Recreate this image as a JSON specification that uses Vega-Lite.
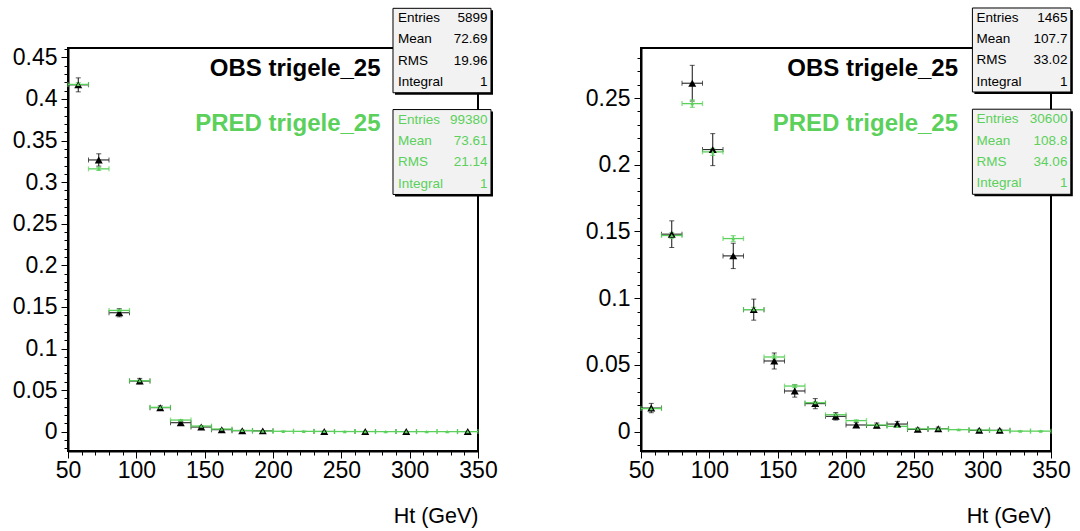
{
  "$schema": "https://vega.github.io/schema/vega-lite/v6.json",
  "background": "white",
  "padding": {"left": 11, "top": 6, "right": 0, "bottom": 0},
  "spacing": 85,
  "config": {
    "font": "Liberation Sans",
    "view": {"stroke": "black", "strokeWidth": 2},
    "axis": {
      "grid": false,
      "domainColor": "black",
      "domainWidth": 2,
      "tickColor": "black",
      "tickWidth": 1,
      "labelColor": "black",
      "labelFont": "Liberation Sans",
      "labelFontSize": 23,
      "labelOverlap": false,
      "labelFlush": false,
      "titleColor": "black",
      "titleFont": "Liberation Sans",
      "titleFontSize": 21.5,
      "titleFontWeight": "normal"
    },
    "text": {"font": "Liberation Sans"}
  },
  "datasets": {
    "left": [
      {"series": "OBS", "lo": 50, "hi": 65, "c": 57.5, "v": 0.417, "err": 0.0084},
      {"series": "OBS", "lo": 65, "hi": 80, "c": 72.5, "v": 0.3267, "err": 0.0074},
      {"series": "OBS", "lo": 80, "hi": 95, "c": 87.5, "v": 0.143, "err": 0.0049},
      {"series": "OBS", "lo": 95, "hi": 110, "c": 102.5, "v": 0.0609, "err": 0.0032},
      {"series": "OBS", "lo": 110, "hi": 125, "c": 117.5, "v": 0.0289, "err": 0.0022},
      {"series": "OBS", "lo": 125, "hi": 140, "c": 132.5, "v": 0.0108, "err": 0.0014},
      {"series": "OBS", "lo": 140, "hi": 155, "c": 147.5, "v": 0.0056, "err": 0.001},
      {"series": "OBS", "lo": 155, "hi": 170, "c": 162.5, "v": 0.0024, "err": 0.0006},
      {"series": "OBS", "lo": 170, "hi": 185, "c": 177.5, "v": 0.0012, "err": 0.00045},
      {"series": "OBS", "lo": 185, "hi": 200, "c": 192.5, "v": 0.001, "err": 0.0004},
      {"series": "OBS", "lo": 230, "hi": 245, "c": 237.5, "v": 0.0003, "err": 0.00024},
      {"series": "OBS", "lo": 260, "hi": 275, "c": 267.5, "v": 0.0002, "err": 0.00017},
      {"series": "OBS", "lo": 290, "hi": 305, "c": 297.5, "v": 0.0002, "err": 0.00017},
      {"series": "OBS", "lo": 335, "hi": 350, "c": 342.5, "v": 0.0002, "err": 0.00017},
      {"series": "PRED", "lo": 50, "hi": 65, "c": 57.5, "v": 0.4175, "err": 0.0021},
      {"series": "PRED", "lo": 65, "hi": 80, "c": 72.5, "v": 0.316, "err": 0.0018},
      {"series": "PRED", "lo": 80, "hi": 95, "c": 87.5, "v": 0.1458, "err": 0.0012},
      {"series": "PRED", "lo": 95, "hi": 110, "c": 102.5, "v": 0.0613, "err": 0.0008},
      {"series": "PRED", "lo": 110, "hi": 125, "c": 117.5, "v": 0.0293, "err": 0.00054},
      {"series": "PRED", "lo": 125, "hi": 140, "c": 132.5, "v": 0.014, "err": 0.00038},
      {"series": "PRED", "lo": 140, "hi": 155, "c": 147.5, "v": 0.0068, "err": 0.00026},
      {"series": "PRED", "lo": 155, "hi": 170, "c": 162.5, "v": 0.0032, "err": 0.00018},
      {"series": "PRED", "lo": 170, "hi": 185, "c": 177.5, "v": 0.0015, "err": 0.00012},
      {"series": "PRED", "lo": 185, "hi": 200, "c": 192.5, "v": 0.0008, "err": 0.00009},
      {"series": "PRED", "lo": 200, "hi": 215, "c": 207.5, "v": 0.0005, "err": 0.00007},
      {"series": "PRED", "lo": 215, "hi": 230, "c": 222.5, "v": 0.0004, "err": 0.00006},
      {"series": "PRED", "lo": 230, "hi": 245, "c": 237.5, "v": 0.0003, "err": 0.00005},
      {"series": "PRED", "lo": 245, "hi": 260, "c": 252.5, "v": 0.0002, "err": 0.00004},
      {"series": "PRED", "lo": 260, "hi": 275, "c": 267.5, "v": 0.0002, "err": 0.00004},
      {"series": "PRED", "lo": 275, "hi": 290, "c": 282.5, "v": 0.0001, "err": 0.00003},
      {"series": "PRED", "lo": 290, "hi": 305, "c": 297.5, "v": 0.0001, "err": 0.00003},
      {"series": "PRED", "lo": 305, "hi": 320, "c": 312.5, "v": 0.0001, "err": 0.00003},
      {"series": "PRED", "lo": 320, "hi": 335, "c": 327.5, "v": 0.0001, "err": 0.00003},
      {"series": "PRED", "lo": 335, "hi": 350, "c": 342.5, "v": 0.0001, "err": 0.00003}
    ],
    "right": [
      {"series": "OBS", "lo": 50, "hi": 65, "c": 57.5, "v": 0.0176, "err": 0.0035},
      {"series": "OBS", "lo": 65, "hi": 80, "c": 72.5, "v": 0.148, "err": 0.01},
      {"series": "OBS", "lo": 80, "hi": 95, "c": 87.5, "v": 0.2612, "err": 0.0134},
      {"series": "OBS", "lo": 95, "hi": 110, "c": 102.5, "v": 0.2114, "err": 0.012},
      {"series": "OBS", "lo": 110, "hi": 125, "c": 117.5, "v": 0.1317, "err": 0.0095},
      {"series": "OBS", "lo": 125, "hi": 140, "c": 132.5, "v": 0.0914, "err": 0.0079},
      {"series": "OBS", "lo": 140, "hi": 155, "c": 147.5, "v": 0.0529, "err": 0.006},
      {"series": "OBS", "lo": 155, "hi": 170, "c": 162.5, "v": 0.0304, "err": 0.0046},
      {"series": "OBS", "lo": 170, "hi": 185, "c": 177.5, "v": 0.0209, "err": 0.0038},
      {"series": "OBS", "lo": 185, "hi": 200, "c": 192.5, "v": 0.0114, "err": 0.0028},
      {"series": "OBS", "lo": 200, "hi": 215, "c": 207.5, "v": 0.0049, "err": 0.0018},
      {"series": "OBS", "lo": 215, "hi": 230, "c": 222.5, "v": 0.0046, "err": 0.0018},
      {"series": "OBS", "lo": 230, "hi": 245, "c": 237.5, "v": 0.0056, "err": 0.002},
      {"series": "OBS", "lo": 245, "hi": 260, "c": 252.5, "v": 0.0016, "err": 0.001},
      {"series": "OBS", "lo": 260, "hi": 275, "c": 267.5, "v": 0.0021, "err": 0.0012},
      {"series": "OBS", "lo": 290, "hi": 305, "c": 297.5, "v": 0.0009, "err": 0.0008},
      {"series": "OBS", "lo": 305, "hi": 320, "c": 312.5, "v": 0.0009, "err": 0.0008},
      {"series": "PRED", "lo": 50, "hi": 65, "c": 57.5, "v": 0.0172, "err": 0.00075},
      {"series": "PRED", "lo": 65, "hi": 80, "c": 72.5, "v": 0.147, "err": 0.0022},
      {"series": "PRED", "lo": 80, "hi": 95, "c": 87.5, "v": 0.2459, "err": 0.0028},
      {"series": "PRED", "lo": 95, "hi": 110, "c": 102.5, "v": 0.2097, "err": 0.0026},
      {"series": "PRED", "lo": 110, "hi": 125, "c": 117.5, "v": 0.1447, "err": 0.0022},
      {"series": "PRED", "lo": 125, "hi": 140, "c": 132.5, "v": 0.0914, "err": 0.0017},
      {"series": "PRED", "lo": 140, "hi": 155, "c": 147.5, "v": 0.0559, "err": 0.0014},
      {"series": "PRED", "lo": 155, "hi": 170, "c": 162.5, "v": 0.0341, "err": 0.0011},
      {"series": "PRED", "lo": 170, "hi": 185, "c": 177.5, "v": 0.0216, "err": 0.00084},
      {"series": "PRED", "lo": 185, "hi": 200, "c": 192.5, "v": 0.0126, "err": 0.00064},
      {"series": "PRED", "lo": 200, "hi": 215, "c": 207.5, "v": 0.0082, "err": 0.00052},
      {"series": "PRED", "lo": 215, "hi": 230, "c": 222.5, "v": 0.0049, "err": 0.0004},
      {"series": "PRED", "lo": 230, "hi": 245, "c": 237.5, "v": 0.0039, "err": 0.00036},
      {"series": "PRED", "lo": 245, "hi": 260, "c": 252.5, "v": 0.002, "err": 0.00026},
      {"series": "PRED", "lo": 260, "hi": 275, "c": 267.5, "v": 0.002, "err": 0.00026},
      {"series": "PRED", "lo": 275, "hi": 290, "c": 282.5, "v": 0.0014, "err": 0.00021},
      {"series": "PRED", "lo": 290, "hi": 305, "c": 297.5, "v": 0.0011, "err": 0.00019},
      {"series": "PRED", "lo": 305, "hi": 320, "c": 312.5, "v": 0.0008, "err": 0.00016},
      {"series": "PRED", "lo": 320, "hi": 335, "c": 327.5, "v": 0.0003, "err": 0.0001},
      {"series": "PRED", "lo": 335, "hi": 350, "c": 342.5, "v": 0.0003, "err": 0.0001}
    ]
  },
  "hconcat": [
    {
      "width": 410,
      "height": 403,
      "resolve": {"axis": {"x": "independent", "y": "independent"}},
      "layer": [
        {
          "layer": [
            {
              "data": {"name": "left"},
              "transform": [{"filter": "datum.series === 'OBS'"}],
              "mark": {"type": "errorbar", "ticks": true, "size": 5, "thickness": 1, "color": "#111111"},
              "encoding": {
                "x": {
                  "field": "lo", "type": "quantitative", "title": "Ht (GeV)",
                  "scale": {"domain": [50, 350], "nice": false, "zero": false},
                  "axis": {
                    "values": [50, 100, 150, 200, 250, 300, 350],
                    "format": "d",
                    "labelOverlap": false,
                    "labelFlush": false,
                    "tickSize": 7,
                    "labelPadding": 1,
                    "titleAnchor": "end",
                    "titleAlign": "right",
                    "titleBaseline": "alphabetic",
                    "titleY": 71
                  }
                },
                "x2": {"field": "hi"},
                "y": {
                  "field": "v", "type": "quantitative", "title": null,
                  "scale": {"domain": [-0.0232, 0.4613], "nice": false, "zero": false},
                  "axis": {
                    "values": [0, 0.05, 0.1, 0.15, 0.2, 0.25, 0.3, 0.35, 0.4, 0.45],
                    "format": "~g",
                    "labelOverlap": false,
                    "labelFlush": false,
                    "tickSize": 7,
                    "labelPadding": 4
                  }
                }
              }
            },
            {
              "data": {"name": "left"},
              "transform": [{"filter": "datum.series === 'OBS'"}],
              "mark": {"type": "errorbar", "ticks": true, "size": 5, "thickness": 1, "color": "#111111"},
              "encoding": {
                "x": {"field": "c", "type": "quantitative", "title": "Ht (GeV)"},
                "y": {"field": "v", "type": "quantitative", "title": null},
                "yError": {"field": "err"}
              }
            },
            {
              "data": {"name": "left"},
              "transform": [{"filter": "datum.series === 'PRED'"}],
              "mark": {"type": "errorbar", "ticks": true, "size": 5, "thickness": 1.3, "color": "#5bd05b"},
              "encoding": {
                "x": {"field": "lo", "type": "quantitative", "title": "Ht (GeV)"},
                "x2": {"field": "hi"},
                "y": {"field": "v", "type": "quantitative", "title": null}
              }
            },
            {
              "data": {"name": "left"},
              "transform": [{"filter": "datum.series === 'PRED'"}],
              "mark": {"type": "errorbar", "ticks": true, "size": 5, "thickness": 1.3, "color": "#5bd05b"},
              "encoding": {
                "x": {"field": "c", "type": "quantitative", "title": "Ht (GeV)"},
                "y": {"field": "v", "type": "quantitative", "title": null},
                "yError": {"field": "err"}
              }
            },
            {
              "data": {"name": "left"},
              "transform": [{"filter": "datum.series === 'OBS'"}],
              "mark": {"type": "point", "shape": "triangle-up", "filled": true, "size": 64, "color": "black", "opacity": 1},
              "encoding": {
                "x": {"field": "c", "type": "quantitative", "title": "Ht (GeV)"},
                "y": {"field": "v", "type": "quantitative", "title": null}
              }
            },
            {
              "data": {"name": "left"},
              "transform": [{"filter": "datum.series === 'PRED'"}],
              "mark": {"type": "point", "shape": "triangle-up", "filled": true, "size": 14, "color": "#5bd05b", "opacity": 1},
              "encoding": {
                "x": {"field": "c", "type": "quantitative", "title": "Ht (GeV)"},
                "y": {"field": "v", "type": "quantitative", "title": null}
              }
            },
            {
              "data": {"values": [{"t": "OBS trigele_25"}]},
              "mark": {"type": "text", "align": "right", "baseline": "middle", "fontSize": 24, "fontWeight": "bold", "color": "black"},
              "encoding": {"x": {"datum": 278.7}, "y": {"datum": 0.4357}, "text": {"field": "t"}}
            },
            {
              "data": {"values": [{"t": "PRED trigele_25"}]},
              "mark": {"type": "text", "align": "right", "baseline": "middle", "fontSize": 24, "fontWeight": "bold", "color": "#5bd05b"},
              "encoding": {"x": {"datum": 278.7}, "y": {"datum": 0.3696}, "text": {"field": "t"}}
            },
            {
              "data": {"values": [{"box": "OBS"}]},
              "mark": {"type": "rect", "color": "black", "xOffset": 2, "x2Offset": 2, "yOffset": 2, "y2Offset": 2},
              "encoding": {"x": {"datum": 287.8}, "x2": {"datum": 359.5}, "y": {"datum": 0.509}, "y2": {"datum": 0.4075}}
            },
            {
              "data": {"values": [{"box": "OBS"}]},
              "mark": {"type": "rect", "fill": "#f2f2f2", "stroke": "black", "strokeWidth": 1},
              "encoding": {"x": {"datum": 287.8}, "x2": {"datum": 359.5}, "y": {"datum": 0.509}, "y2": {"datum": 0.4075}}
            },
            {
              "data": {"values": [{"k": "Entries\nMean\nRMS\nIntegral", "val": "5899\n72.69\n19.96\n1"}]},
              "mark": {"type": "text", "align": "left", "baseline": "middle", "fontSize": 13.5, "lineBreak": "\n", "lineHeight": 21.4, "color": "black"},
              "encoding": {"x": {"datum": 291.5}, "y": {"datum": 0.4973}, "text": {"field": "k"}}
            },
            {
              "data": {"values": [{"k": "Entries\nMean\nRMS\nIntegral", "val": "5899\n72.69\n19.96\n1"}]},
              "mark": {"type": "text", "align": "right", "baseline": "middle", "fontSize": 13.5, "lineBreak": "\n", "lineHeight": 21.4, "color": "black"},
              "encoding": {"x": {"datum": 357.0}, "y": {"datum": 0.4973}, "text": {"field": "val"}}
            },
            {
              "data": {"values": [{"box": "PRED"}]},
              "mark": {"type": "rect", "color": "black", "xOffset": 2, "x2Offset": 2, "yOffset": 2, "y2Offset": 2},
              "encoding": {"x": {"datum": 287.8}, "x2": {"datum": 359.5}, "y": {"datum": 0.3873}, "y2": {"datum": 0.2852}}
            },
            {
              "data": {"values": [{"box": "PRED"}]},
              "mark": {"type": "rect", "fill": "#f2f2f2", "stroke": "black", "strokeWidth": 1},
              "encoding": {"x": {"datum": 287.8}, "x2": {"datum": 359.5}, "y": {"datum": 0.3873}, "y2": {"datum": 0.2852}}
            },
            {
              "data": {"values": [{"k": "Entries\nMean\nRMS\nIntegral", "val": "99380\n73.61\n21.14\n1"}]},
              "mark": {"type": "text", "align": "left", "baseline": "middle", "fontSize": 13.5, "lineBreak": "\n", "lineHeight": 21.4, "color": "#5bd05b"},
              "encoding": {"x": {"datum": 291.5}, "y": {"datum": 0.3753}, "text": {"field": "k"}}
            },
            {
              "data": {"values": [{"k": "Entries\nMean\nRMS\nIntegral", "val": "99380\n73.61\n21.14\n1"}]},
              "mark": {"type": "text", "align": "right", "baseline": "middle", "fontSize": 13.5, "lineBreak": "\n", "lineHeight": 21.4, "color": "#5bd05b"},
              "encoding": {"x": {"datum": 357.0}, "y": {"datum": 0.3753}, "text": {"field": "val"}}
            }
          ]
        },
        {
          "data": {"name": "left"},
          "mark": {"type": "point", "opacity": 0},
          "encoding": {
            "x": {
              "field": "c", "type": "quantitative", "title": null,
              "axis": {
                "orient": "bottom",
                "values": [60, 70, 80, 90, 110, 120, 130, 140, 160, 170, 180, 190, 210, 220, 230, 240, 260, 270, 280, 290, 310, 320, 330, 340],
                "labels": false, "domain": false, "tickSize": 4, "title": null
              }
            },
            "y": {
              "field": "v", "type": "quantitative", "title": null,
              "axis": {
                "orient": "left",
                "values": [-0.02, -0.01, 0.01, 0.02, 0.03, 0.04, 0.06, 0.07, 0.08, 0.09, 0.11, 0.12, 0.13, 0.14, 0.16, 0.17, 0.18, 0.19, 0.21, 0.22, 0.23, 0.24, 0.26, 0.27, 0.28, 0.29, 0.31, 0.32, 0.33, 0.34, 0.36, 0.37, 0.38, 0.39, 0.41, 0.42, 0.43, 0.44, 0.46],
                "labels": false, "domain": false, "tickSize": 4, "title": null
              }
            }
          }
        }
      ]
    },
    {
      "width": 410,
      "height": 403,
      "resolve": {"axis": {"x": "independent", "y": "independent"}},
      "layer": [
        {
          "layer": [
            {
              "data": {"name": "right"},
              "transform": [{"filter": "datum.series === 'OBS'"}],
              "mark": {"type": "errorbar", "ticks": true, "size": 5, "thickness": 1, "color": "#111111"},
              "encoding": {
                "x": {
                  "field": "lo", "type": "quantitative", "title": "Ht (GeV)",
                  "scale": {"domain": [50, 350], "nice": false, "zero": false},
                  "axis": {
                    "values": [50, 100, 150, 200, 250, 300, 350],
                    "format": "d",
                    "labelOverlap": false,
                    "labelFlush": false,
                    "tickSize": 7,
                    "labelPadding": 1,
                    "titleAnchor": "end",
                    "titleAlign": "right",
                    "titleBaseline": "alphabetic",
                    "titleY": 71
                  }
                },
                "x2": {"field": "hi"},
                "y": {
                  "field": "v", "type": "quantitative", "title": null,
                  "scale": {"domain": [-0.0146, 0.2876], "nice": false, "zero": false},
                  "axis": {
                    "values": [0, 0.05, 0.1, 0.15, 0.2, 0.25],
                    "format": "~g",
                    "labelOverlap": false,
                    "labelFlush": false,
                    "tickSize": 7,
                    "labelPadding": 4
                  }
                }
              }
            },
            {
              "data": {"name": "right"},
              "transform": [{"filter": "datum.series === 'OBS'"}],
              "mark": {"type": "errorbar", "ticks": true, "size": 5, "thickness": 1, "color": "#111111"},
              "encoding": {
                "x": {"field": "c", "type": "quantitative", "title": "Ht (GeV)"},
                "y": {"field": "v", "type": "quantitative", "title": null},
                "yError": {"field": "err"}
              }
            },
            {
              "data": {"name": "right"},
              "transform": [{"filter": "datum.series === 'PRED'"}],
              "mark": {"type": "errorbar", "ticks": true, "size": 5, "thickness": 1.3, "color": "#5bd05b"},
              "encoding": {
                "x": {"field": "lo", "type": "quantitative", "title": "Ht (GeV)"},
                "x2": {"field": "hi"},
                "y": {"field": "v", "type": "quantitative", "title": null}
              }
            },
            {
              "data": {"name": "right"},
              "transform": [{"filter": "datum.series === 'PRED'"}],
              "mark": {"type": "errorbar", "ticks": true, "size": 5, "thickness": 1.3, "color": "#5bd05b"},
              "encoding": {
                "x": {"field": "c", "type": "quantitative", "title": "Ht (GeV)"},
                "y": {"field": "v", "type": "quantitative", "title": null},
                "yError": {"field": "err"}
              }
            },
            {
              "data": {"name": "right"},
              "transform": [{"filter": "datum.series === 'OBS'"}],
              "mark": {"type": "point", "shape": "triangle-up", "filled": true, "size": 64, "color": "black", "opacity": 1},
              "encoding": {
                "x": {"field": "c", "type": "quantitative", "title": "Ht (GeV)"},
                "y": {"field": "v", "type": "quantitative", "title": null}
              }
            },
            {
              "data": {"name": "right"},
              "transform": [{"filter": "datum.series === 'PRED'"}],
              "mark": {"type": "point", "shape": "triangle-up", "filled": true, "size": 14, "color": "#5bd05b", "opacity": 1},
              "encoding": {
                "x": {"field": "c", "type": "quantitative", "title": "Ht (GeV)"},
                "y": {"field": "v", "type": "quantitative", "title": null}
              }
            },
            {
              "data": {"values": [{"t": "OBS trigele_25"}]},
              "mark": {"type": "text", "align": "right", "baseline": "middle", "fontSize": 24, "fontWeight": "bold", "color": "black"},
              "encoding": {"x": {"datum": 282}, "y": {"datum": 0.2719}, "text": {"field": "t"}}
            },
            {
              "data": {"values": [{"t": "PRED trigele_25"}]},
              "mark": {"type": "text", "align": "right", "baseline": "middle", "fontSize": 24, "fontWeight": "bold", "color": "#5bd05b"},
              "encoding": {"x": {"datum": 282}, "y": {"datum": 0.2306}, "text": {"field": "t"}}
            },
            {
              "data": {"values": [{"box": "OBS"}]},
              "mark": {"type": "rect", "color": "black", "xOffset": 2, "x2Offset": 2, "yOffset": 2, "y2Offset": 2},
              "encoding": {"x": {"datum": 292.5}, "x2": {"datum": 364.5}, "y": {"datum": 0.3176}, "y2": {"datum": 0.2546}}
            },
            {
              "data": {"values": [{"box": "OBS"}]},
              "mark": {"type": "rect", "fill": "#f2f2f2", "stroke": "black", "strokeWidth": 1},
              "encoding": {"x": {"datum": 292.5}, "x2": {"datum": 364.5}, "y": {"datum": 0.3176}, "y2": {"datum": 0.2546}}
            },
            {
              "data": {"values": [{"k": "Entries\nMean\nRMS\nIntegral", "val": "1465\n107.7\n33.02\n1"}]},
              "mark": {"type": "text", "align": "left", "baseline": "middle", "fontSize": 13.5, "lineBreak": "\n", "lineHeight": 21.4, "color": "black"},
              "encoding": {"x": {"datum": 295.5}, "y": {"datum": 0.3104}, "text": {"field": "k"}}
            },
            {
              "data": {"values": [{"k": "Entries\nMean\nRMS\nIntegral", "val": "1465\n107.7\n33.02\n1"}]},
              "mark": {"type": "text", "align": "right", "baseline": "middle", "fontSize": 13.5, "lineBreak": "\n", "lineHeight": 21.4, "color": "black"},
              "encoding": {"x": {"datum": 362}, "y": {"datum": 0.3104}, "text": {"field": "val"}}
            },
            {
              "data": {"values": [{"box": "PRED"}]},
              "mark": {"type": "rect", "color": "black", "xOffset": 2, "x2Offset": 2, "yOffset": 2, "y2Offset": 2},
              "encoding": {"x": {"datum": 292.5}, "x2": {"datum": 364.5}, "y": {"datum": 0.2417}, "y2": {"datum": 0.1779}}
            },
            {
              "data": {"values": [{"box": "PRED"}]},
              "mark": {"type": "rect", "fill": "#f2f2f2", "stroke": "black", "strokeWidth": 1},
              "encoding": {"x": {"datum": 292.5}, "x2": {"datum": 364.5}, "y": {"datum": 0.2417}, "y2": {"datum": 0.1779}}
            },
            {
              "data": {"values": [{"k": "Entries\nMean\nRMS\nIntegral", "val": "30600\n108.8\n34.06\n1"}]},
              "mark": {"type": "text", "align": "left", "baseline": "middle", "fontSize": 13.5, "lineBreak": "\n", "lineHeight": 21.4, "color": "#5bd05b"},
              "encoding": {"x": {"datum": 295.5}, "y": {"datum": 0.2342}, "text": {"field": "k"}}
            },
            {
              "data": {"values": [{"k": "Entries\nMean\nRMS\nIntegral", "val": "30600\n108.8\n34.06\n1"}]},
              "mark": {"type": "text", "align": "right", "baseline": "middle", "fontSize": 13.5, "lineBreak": "\n", "lineHeight": 21.4, "color": "#5bd05b"},
              "encoding": {"x": {"datum": 362}, "y": {"datum": 0.2342}, "text": {"field": "val"}}
            }
          ]
        },
        {
          "data": {"name": "right"},
          "mark": {"type": "point", "opacity": 0},
          "encoding": {
            "x": {
              "field": "c", "type": "quantitative", "title": null,
              "axis": {
                "orient": "bottom",
                "values": [60, 70, 80, 90, 110, 120, 130, 140, 160, 170, 180, 190, 210, 220, 230, 240, 260, 270, 280, 290, 310, 320, 330, 340],
                "labels": false, "domain": false, "tickSize": 4, "title": null
              }
            },
            "y": {
              "field": "v", "type": "quantitative", "title": null,
              "axis": {
                "orient": "left",
                "values": [-0.01, 0.01, 0.02, 0.03, 0.04, 0.06, 0.07, 0.08, 0.09, 0.11, 0.12, 0.13, 0.14, 0.16, 0.17, 0.18, 0.19, 0.21, 0.22, 0.23, 0.24, 0.26, 0.27, 0.28],
                "labels": false, "domain": false, "tickSize": 4, "title": null
              }
            }
          }
        }
      ]
    }
  ]
}
